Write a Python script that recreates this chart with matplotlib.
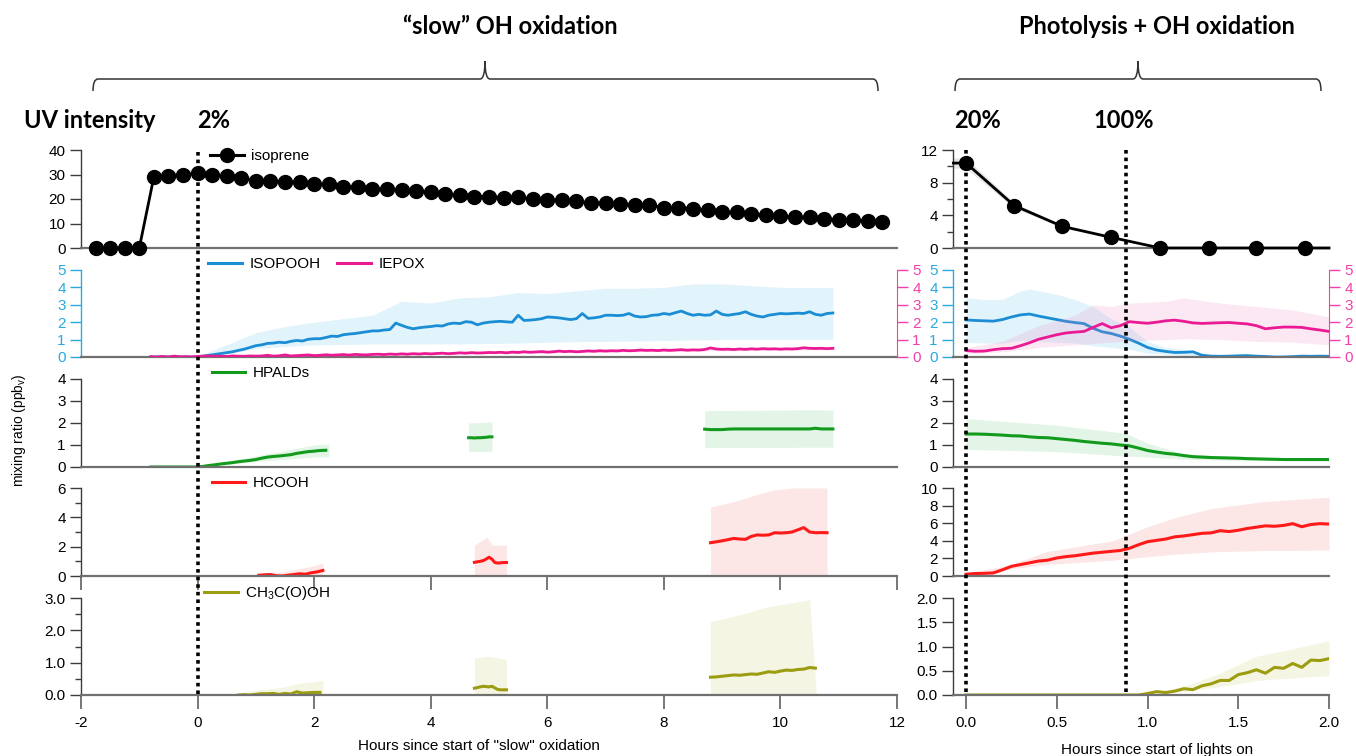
import numpy as np
import matplotlib.pyplot as plt
from matplotlib import transforms
from matplotlib.lines import Line2D
from matplotlib.path import Path
from matplotlib.patches import PathPatch

plt.rcParams['font.family'] = ['Liberation Sans', 'DejaVu Sans']
plt.rcParams['font.size'] = 11
plt.rcParams['mathtext.default'] = 'regular'
plt.rcParams['axes.unicode_minus'] = False

# ---------------- "slow" OH oxidation (hours since start) ----------------
iso = [0, 0, 0, 0, 29, 29.5, 30, 30.5,
       30, 29.5, 28.5, 27.5, 27.5, 27, 27, 26, 26, 25, 25, 24, 24.2, 23.5, 23.4, 22.8, 22,
       21.5, 21, 21, 20.5, 20.8, 20, 19.5, 19.5, 19, 18.5, 18.3, 18, 17.7, 17.5, 16.5,
       16.5, 16, 15.5, 14.5, 14.5, 14, 13.5, 13, 12.5, 12.5, 12, 11.5, 11.5, 11, 10.5]
iso_t = np.linspace(-1.75, 11.75, len(iso))
iso_rel_err = 0.06

isopooh = [0, 0, 0, 0, 0, 0, 0, 0, 0.02,
           0.05, 0.1, 0.15, 0.2, 0.25, 0.3, 0.38, 0.45, 0.55, 0.65,
           0.7, 0.78, 0.8, 0.85, 0.82, 0.9, 0.95, 0.92, 1.02, 1.05,
           1.05, 1.12, 1.2, 1.18, 1.28, 1.32, 1.35, 1.4, 1.45, 1.5,
           1.5, 1.55, 1.58, 1.95, 1.82, 1.7, 1.62, 1.68, 1.72, 1.75,
           1.8, 1.78, 1.9, 1.95, 1.92, 2.03, 2.0, 1.85, 1.95, 2.0,
           2.03, 2.05, 2.02, 2.0, 2.4, 2.1, 2.12, 2.15, 2.2, 2.3,
           2.28, 2.25, 2.2, 2.15, 2.2, 2.5, 2.22, 2.25, 2.3, 2.4,
           2.4, 2.38, 2.4, 2.5, 2.35, 2.3, 2.32, 2.4, 2.42, 2.5,
           2.45, 2.55, 2.64, 2.5, 2.4, 2.45, 2.4, 2.42, 2.64, 2.45,
           2.4, 2.45, 2.5, 2.6, 2.45, 2.35, 2.3, 2.4, 2.45, 2.5,
           2.48, 2.5, 2.52, 2.5, 2.6, 2.45, 2.4, 2.5, 2.53]
isopooh_t = np.linspace(-0.8, 10.9, len(isopooh))
isopooh_band_t = [0, 0.5, 1, 1.5, 2, 2.5, 3, 3.5, 4, 4.5, 5, 5.5, 6, 6.5, 7, 7.5, 8, 8.5,
                  9, 9.5, 10, 10.5, 10.9]
isopooh_hi = [0.05, 0.7, 1.4, 1.75, 2.0, 2.2, 2.4, 3.2, 3.1, 3.4, 3.45, 3.7, 3.65, 3.8, 3.95,
              3.95, 4.0, 4.2, 4.2, 4.1, 4.0, 4.0, 4.0]
isopooh_lo = [0, 0.15, 0.5, 0.6, 0.7, 0.72, 0.75, 0.75, 0.75, 0.75, 0.78, 0.8, 0.85, 0.88, 0.9,
              0.92, 0.95, 0.98, 1.0, 1.0, 1.0, 1.0, 1.0]

iepox = [0.02, 0.0, 0.03, 0.0, 0.05, 0.01, 0.02, 0.0, 0.03,
         0.05, 0.06, 0.04, 0.05, 0.03, 0.06, 0.05, 0.04, 0.06, 0.05,
         0.06, 0.1, 0.05, 0.07, 0.12, 0.06, 0.08, 0.1, 0.12, 0.08,
         0.1, 0.13, 0.1, 0.12, 0.14, 0.11, 0.15, 0.13, 0.12, 0.15,
         0.16, 0.14, 0.17, 0.15, 0.18, 0.16, 0.19, 0.17, 0.2, 0.18,
         0.2, 0.22, 0.19, 0.21, 0.24, 0.22, 0.25, 0.23, 0.24, 0.26,
         0.25, 0.27, 0.24, 0.28, 0.26, 0.3, 0.27, 0.29, 0.31, 0.28,
         0.3, 0.34, 0.31, 0.33, 0.3, 0.32, 0.35, 0.33, 0.36, 0.34,
         0.36, 0.35, 0.38, 0.36, 0.37, 0.4, 0.38, 0.39, 0.37, 0.4,
         0.38, 0.4, 0.42, 0.39, 0.41, 0.4, 0.43, 0.52, 0.46, 0.44,
         0.45, 0.43, 0.46, 0.44, 0.47, 0.45, 0.48, 0.46, 0.47, 0.45,
         0.47, 0.46, 0.48, 0.53, 0.5, 0.49, 0.5, 0.48, 0.5]
iepox_t = np.linspace(-0.8, 10.9, len(iepox))
iepox_band_t = [-0.8, 2, 4, 6, 8, 10.9]
iepox_hi = [0.06, 0.16, 0.26, 0.36, 0.47, 0.58]
iepox_lo = [0.0, 0.04, 0.14, 0.22, 0.32, 0.42]

# HPALDs: three measurement periods
hpald_1 = [0, 0, 0, 0, 0, 0, 0, 0, 0,
           0.03, 0.07, 0.1, 0.14, 0.17, 0.2, 0.24, 0.27, 0.3, 0.34,
           0.4, 0.45, 0.48, 0.5, 0.53, 0.56, 0.62, 0.66, 0.7, 0.72, 0.75, 0.76]
hpald_1_t = np.linspace(-0.8, 2.2, len(hpald_1))
hpald_2 = [1.33, 1.33, 1.32, 1.33, 1.33, 1.34, 1.35, 1.37, 1.37]
hpald_2_t = np.linspace(4.65, 5.05, len(hpald_2))
hpald_3 = [1.72, 1.7, 1.7, 1.7, 1.72, 1.73, 1.73, 1.73, 1.73, 1.73, 1.73, 1.73, 1.73, 1.73,
           1.73, 1.73, 1.73, 1.73, 1.73, 1.76, 1.73, 1.73, 1.73]
hpald_3_t = np.linspace(8.7, 10.9, len(hpald_3))
hpald_bands = [([0, 0.5, 1.0, 1.5, 2.0, 2.25], [0, 0.12, 0.25, 0.35, 0.45, 0.47], [0, 0.25, 0.5, 0.75, 1.0, 1.05]),
               ([4.65, 5.05], [0.7, 0.7], [2.0, 2.05]),
               ([8.7, 10.6, 10.9], [0.88, 0.9, 0.9], [2.56, 2.6, 2.58])]

# HCOOH
hcooh_1 = [0.05, 0.08, 0.1, 0.02, 0.0, 0.05, 0.1, 0.15, 0.12, 0.22, 0.28, 0.38]
hcooh_1_t = np.linspace(1.05, 2.15, len(hcooh_1))
hcooh_2 = [0.93, 0.97, 1.0, 1.05, 1.15, 1.28, 1.15, 0.92, 0.88, 0.9, 0.92, 0.92]
hcooh_2_t = np.linspace(4.75, 5.3, len(hcooh_2))
hcooh_3 = [2.27, 2.33, 2.4, 2.48, 2.56, 2.52, 2.5, 2.7, 2.8, 2.78, 2.8, 2.95, 2.93, 2.95,
           3.0, 3.15, 3.3, 3.0, 2.95, 2.96, 2.95]
hcooh_3_t = np.linspace(8.8, 10.8, len(hcooh_3))
hcooh_bands = [([1.05, 1.5, 2.0, 2.15], [0, 0, 0.05, 0.1], [0.2, 0.3, 0.7, 0.9]),
               ([4.75, 4.96, 5.06, 5.3], [0, 0, 0, 0], [2.1, 2.65, 2.1, 2.1]),
               ([8.8, 9.2, 9.55, 9.88, 10.22, 10.8], [0, 0, 0, 0, 0, 0], [4.7, 5.07, 5.5, 5.86, 6.0, 6.0])]

# CH3C(O)OH
acid_1 = [0.0, 0.01, 0.0, 0.02, 0.04, 0.04, 0.05, 0.02, 0.05, 0.03, 0.1, 0.06, 0.07, 0.08, 0.08]
acid_1_t = np.linspace(0.7, 2.1, len(acid_1))
acid_2 = [0.21, 0.23, 0.25, 0.27, 0.26, 0.25, 0.27, 0.22, 0.17, 0.16, 0.16, 0.16]
acid_2_t = np.linspace(4.75, 5.3, len(acid_2))
acid_3 = [0.55, 0.56, 0.58, 0.6, 0.62, 0.61, 0.63, 0.65, 0.64, 0.68, 0.72, 0.7, 0.74, 0.77,
          0.76, 0.79, 0.8, 0.85, 0.83]
acid_3_t = np.linspace(8.8, 10.6, len(acid_3))
acid_bands = [([0.7, 1.0, 1.5, 1.7, 2.15], [0, 0, 0, 0, 0], [0.05, 0.15, 0.25, 0.35, 0.45]),
              ([4.75, 5.0, 5.3], [0, 0, 0], [1.14, 1.2, 1.1]),
              ([8.8, 9.2, 9.77, 10.5, 10.62], [0, 0, 0, 0, 0], [2.27, 2.43, 2.72, 2.95, 0.0])]

# ---------------- photolysis + OH oxidation (hours since lights on) ----------------
iso_r_t = [-0.07, 0.0, 0.265, 0.53, 0.8, 1.07, 1.34, 1.6, 1.87, 2.0]
iso_r = [10.4, 10.4, 5.2, 2.65, 1.3, 0.0, 0.0, 0.0, 0.0, 0.0]
iso_r_measured = [1, 2, 3, 4, 5, 6, 7, 8]

isopooh_r = [2.13, 2.1, 2.08, 2.06, 2.15, 2.3, 2.42, 2.47, 2.35, 2.25, 2.15, 2.05, 1.98, 1.92,
             1.65, 1.45, 1.35, 1.2, 1.02, 0.8, 0.55, 0.4, 0.32, 0.26, 0.27, 0.3, 0.1, 0.05,
             0.04, 0.05, 0.07, 0.08, 0.05, 0.03, 0.0, 0.0, 0.02, 0.05, 0.04, 0.05, 0.04]
iepox_r = [0.37, 0.33, 0.34, 0.42, 0.48, 0.5, 0.65, 0.82, 1.02, 1.15, 1.28, 1.38, 1.43, 1.47,
           1.7, 1.92, 1.68, 1.8, 2.03, 1.98, 1.94, 2.0, 2.08, 2.12, 2.05, 1.96, 1.93, 1.95,
           1.97, 1.98, 1.94, 1.9, 1.8, 1.62, 1.68, 1.72, 1.72, 1.7, 1.62, 1.55, 1.47]
hpald_r = [1.5, 1.5, 1.49, 1.47, 1.45, 1.42, 1.41, 1.37, 1.34, 1.33, 1.29, 1.25, 1.21, 1.16,
           1.12, 1.08, 1.05, 1.0, 0.96, 0.86, 0.75, 0.68, 0.62, 0.58, 0.52, 0.47, 0.45, 0.43,
           0.42, 0.41, 0.4, 0.38, 0.37, 0.36, 0.35, 0.34, 0.34, 0.34, 0.34, 0.34, 0.34]
hcooh_r = [0.2, 0.28, 0.3, 0.35, 0.7, 1.1, 1.3, 1.5, 1.7, 1.8, 2.05, 2.2, 2.3, 2.45, 2.6, 2.7,
           2.8, 2.9, 3.15, 3.55, 3.9, 4.05, 4.2, 4.45, 4.55, 4.7, 4.85, 4.9, 5.15, 5.05, 5.2,
           5.4, 5.55, 5.7, 5.65, 5.75, 5.95, 5.6, 5.85, 5.95, 5.9]
acid_r = [0.0] * 20 + [0.03, 0.07, 0.05, 0.08, 0.13, 0.11, 0.19, 0.23, 0.3, 0.3, 0.42, 0.46,
                       0.52, 0.45, 0.57, 0.55, 0.65, 0.57, 0.72, 0.71, 0.75]
r_t = np.linspace(0.0, 2.0, len(hpald_r))

isopooh_r_band_t = [0, 0.1, 0.2, 0.3, 0.35, 0.5, 0.6, 0.7, 0.8, 0.9, 1.0, 1.1, 1.2, 1.3, 1.4, 2.0]
isopooh_r_hi = [3.4, 3.3, 3.3, 3.8, 3.9, 3.6, 3.3, 2.9, 2.2, 1.7, 0.9, 0.55, 0.45, 0.15, 0.06, 0.06]
isopooh_r_lo = [0.85, 0.8, 0.8, 0.95, 0.95, 0.85, 0.8, 0.65, 0.55, 0.45, 0.22, 0.15, 0.1, 0.03, 0.02, 0.02]
iepox_r_band_t = [0, 0.2, 0.4, 0.6, 0.7, 0.8, 0.9, 1.1, 1.2, 1.4, 1.6, 1.8, 2.0]
iepox_r_hi = [0.55, 0.9, 1.8, 2.4, 3.0, 2.9, 3.1, 3.2, 3.4, 3.1, 2.9, 2.7, 2.3]
iepox_r_lo = [0.2, 0.3, 0.55, 0.7, 0.78, 0.85, 0.92, 1.0, 1.05, 1.0, 0.9, 0.85, 0.7]
hpald_r_band_t = [0, 0.5, 0.88, 1.0, 1.2, 1.5, 2.0]
hpald_r_hi = [2.2, 1.9, 1.53, 1.08, 0.6, 0.45, 0.4]
hpald_r_lo = [0.8, 0.7, 0.5, 0.45, 0.35, 0.3, 0.28]
hcooh_r_band_t = [0, 0.24, 0.44, 0.81, 1.0, 1.17, 1.36, 1.64, 2.0]
hcooh_r_hi = [0.3, 1.25, 2.76, 4.0, 5.6, 6.74, 7.7, 8.45, 8.95]
hcooh_r_lo = [0.1, 0.8, 1.3, 1.8, 2.2, 2.5, 2.75, 2.9, 2.95]
acid_r_band_t = [0, 1.0, 1.2, 1.4, 1.6, 1.8, 2.0]
acid_r_hi = [0, 0.03, 0.18, 0.45, 0.8, 0.95, 1.12]
acid_r_lo = [0, 0, 0.08, 0.17, 0.3, 0.35, 0.4]

uv_left = [0.0]
uv_right = [0.0, 0.88]

# ---------------- colours ----------------
K_ISO = 'black'
K_ISOPOOH, B_ISOPOOH, A_ISOPOOH = '#1a8dd4', '#e1f3fb', '#29a9e0'
K_IEPOX, A_IEPOX = '#ea1a94', '#f040aa'
K_HPALD, B_HPALD = '#129a1c', '#e3f5e6'
K_HCOOH, B_HCOOH = '#ff1a1a', '#fde6e6'
K_ACID, B_ACID = '#9c9c10', '#f5f5e4'

W, H = 1356, 756
fig = plt.figure(figsize=(W / 100, H / 100), dpi=100)


def px_axes(x0, x1, y0, y1):
    return fig.add_axes([x0 / W, 1 - y1 / H, (x1 - x0) / W, (y1 - y0) / H])


rows = [(150, 248), (270, 357), (379, 467), (488, 576), (598, 695)]
L = [px_axes(81, 897, *r) for r in rows]
R = [px_axes(953, 1329, *r) for r in rows]


def base(ax, xlim, ylim, yt, yminor=None, fmt=None, col='#3c3c3c', lab='black'):
    ax.set_xlim(*xlim)
    ax.set_ylim(*ylim)
    ax.patch.set_alpha(0)
    ax.spines['top'].set_visible(False)
    ax.spines['right'].set_visible(False)
    ax.spines['bottom'].set_color('#707070')
    ax.spines['bottom'].set_linewidth(1.6)
    ax.spines['left'].set_color(col)
    ax.spines['left'].set_linewidth(1.0)
    ax.set_yticks(yt)
    if yminor is not None:
        ax.set_yticks(yminor, minor=True)
    if fmt:
        ax.set_yticklabels([fmt % v for v in yt])
    ax.tick_params(axis='y', which='both', direction='out', color=col, labelcolor=lab,
                   width=1, pad=3, labelsize=11)
    ax.tick_params(axis='y', which='major', length=8)
    ax.tick_params(axis='y', which='minor', length=4)
    ax.tick_params(axis='x', which='both', bottom=False, labelbottom=False)


def xticks(ax, ticks, fmt, labels=True):
    ax.set_xticks(ticks)
    ax.set_xticklabels([fmt % v for v in ticks])
    ax.tick_params(axis='x', bottom=True, labelbottom=labels, direction='out', length=10,
                   width=1.2, color='#606060', pad=5, labelsize=11)


def key(ax, items, x, y, ncol=1):
    hs = [Line2D([], [], color=c, lw=2.2, marker=m, ms=10) for c, m, _ in items]
    ax.legend(hs, [t for _, _, t in items], loc='center left', bbox_to_anchor=(x, y),
              frameon=False, ncol=ncol, handlelength=2.2, handletextpad=0.5,
              columnspacing=1.1, borderpad=0, borderaxespad=0, fontsize=11)


xl, xr = (-2, 12), (-0.072, 2.0)

# row 1: isoprene
iso_a = np.array(iso)
L[0].fill_between(iso_t, iso_a * (1 - iso_rel_err), iso_a * (1 + iso_rel_err), color='#e6e6e6', lw=0)
L[0].plot(iso_t, iso, color=K_ISO, lw=2, marker='o', ms=10, clip_on=False, zorder=3)
base(L[0], xl, (0, 40), [0, 10, 20, 30, 40])
key(L[0], [(K_ISO, 'o', 'isoprene')], 0.158, 0.94)

iso_ra = np.array(iso_r)
R[0].fill_between(iso_r_t, iso_ra * (1 - iso_rel_err), iso_ra * (1 + iso_rel_err), color='#e6e6e6', lw=0)
R[0].plot(iso_r_t, iso_r, color=K_ISO, lw=2, marker='o', ms=10, markevery=iso_r_measured,
          clip_on=False, zorder=3)
base(R[0], xr, (0, 12), [0, 4, 8, 12], [2, 6, 10])

# row 2: ISOPOOH (left axis) and IEPOX (right axis)
L[1].fill_between(isopooh_band_t, isopooh_lo, isopooh_hi, color=B_ISOPOOH, lw=0)
L[1].plot(isopooh_t, isopooh, color=K_ISOPOOH, lw=2)
base(L[1], xl, (0, 5), [0, 1, 2, 3, 4, 5], col=A_ISOPOOH, lab=A_ISOPOOH)
L1b = L[1].twinx()
L1b.fill_between(iepox_band_t, iepox_lo, iepox_hi, color='#f080c0', alpha=0.18, lw=0)
L1b.plot(iepox_t, iepox, color=K_IEPOX, lw=2)
key(L[1], [(K_ISOPOOH, None, 'ISOPOOH'), (K_IEPOX, None, 'IEPOX')], 0.156, 1.07, ncol=2)

R[1].fill_between(isopooh_r_band_t, isopooh_r_lo, isopooh_r_hi, color=B_ISOPOOH, lw=0)
R[1].plot(r_t, isopooh_r, color=K_ISOPOOH, lw=2)
base(R[1], xr, (0, 5), [0, 1, 2, 3, 4, 5], col=A_ISOPOOH, lab=A_ISOPOOH)
R1b = R[1].twinx()
R1b.fill_between(iepox_r_band_t, iepox_r_lo, iepox_r_hi, color='#f080c0', alpha=0.18, lw=0)
R1b.plot(r_t, iepox_r, color=K_IEPOX, lw=2)

for tw in (L1b, R1b):
    tw.set_ylim(0, 5)
    tw.set_yticks([0, 1, 2, 3, 4, 5])
    for s in ('top', 'left', 'bottom'):
        tw.spines[s].set_visible(False)
    tw.spines['right'].set_color(A_IEPOX)
    tw.tick_params(axis='y', direction='out', length=8, width=1, color=A_IEPOX,
                   labelcolor=A_IEPOX, pad=3, labelsize=11)
    tw.tick_params(axis='x', bottom=False, labelbottom=False)

# row 3: HPALDs
for (bt, lo, hi) in hpald_bands:
    L[2].fill_between(bt, lo, hi, color=B_HPALD, lw=0)
for t, v in ((hpald_1_t, hpald_1), (hpald_2_t, hpald_2), (hpald_3_t, hpald_3)):
    L[2].plot(t, v, color=K_HPALD, lw=2.2)
base(L[2], xl, (0, 4), [0, 1, 2, 3, 4])
key(L[2], [(K_HPALD, None, 'HPALDs')], 0.16, 1.068)

R[2].fill_between(hpald_r_band_t, hpald_r_lo, hpald_r_hi, color=B_HPALD, lw=0)
R[2].plot(r_t, hpald_r, color=K_HPALD, lw=2.2)
base(R[2], xr, (0, 4), [0, 1, 2, 3, 4])

# row 4: HCOOH
for (bt, lo, hi) in hcooh_bands:
    L[3].fill_between(bt, lo, hi, color=B_HCOOH, lw=0)
for t, v in ((hcooh_1_t, hcooh_1), (hcooh_2_t, hcooh_2), (hcooh_3_t, hcooh_3)):
    L[3].plot(t, v, color=K_HCOOH, lw=2.2)
base(L[3], xl, (0, 6), [0, 2, 4, 6], [1, 3, 5])
xticks(L[3], list(range(-2, 13, 2)), '%d', labels=False)
key(L[3], [(K_HCOOH, None, 'HCOOH')], 0.16, 1.057)

R[3].fill_between(hcooh_r_band_t, hcooh_r_lo, hcooh_r_hi, color=B_HCOOH, lw=0)
R[3].plot(r_t, hcooh_r, color=K_HCOOH, lw=2.2)
base(R[3], xr, (0, 10), [0, 2, 4, 6, 8, 10])

# row 5: CH3C(O)OH
for (bt, lo, hi) in acid_bands:
    L[4].fill_between(bt, lo, hi, color=B_ACID, lw=0)
for t, v in ((acid_1_t, acid_1), (acid_2_t, acid_2), (acid_3_t, acid_3)):
    L[4].plot(t, v, color=K_ACID, lw=2.2)
base(L[4], xl, (0, 3), [0, 1, 2, 3], [0.5, 1.5, 2.5], fmt='%.1f')
xticks(L[4], list(range(-2, 13, 2)), '%d')
key(L[4], [(K_ACID, None, 'CH$_3$C(O)OH')], 0.151, 1.05)

R[4].fill_between(acid_r_band_t, acid_r_lo, acid_r_hi, color=B_ACID, lw=0)
R[4].plot(r_t, acid_r, color=K_ACID, lw=2.2)
base(R[4], xr, (0, 2), [0, 0.5, 1.0, 1.5, 2.0], fmt='%.1f')
xticks(R[4], [0, 0.5, 1.0, 1.5, 2.0], '%.1f')

# dotted lines where the UV intensity changes
for ax, steps, top in ((L[0], uv_left, 152), (R[0], uv_right, 150)):
    tr = transforms.blended_transform_factory(ax.transData, fig.transFigure)
    for s in steps:
        fig.add_artist(Line2D([s, s], [1 - top / H, 1 - 695 / H], transform=tr, color='black',
                              lw=2.6, ls=(0, (1, 1.1)), zorder=10))


# curly braces above the two periods
def brace(x0, x1, xm, y=79, tip=61, end=91, r=5):
    v = [(x0, end), (x0, y), (x0 + r, y), (xm - r, y), (xm, y), (xm, tip), (xm, y),
         (xm + r, y), (x1 - r, y), (x1, y), (x1, end)]
    c = [Path.MOVETO, Path.CURVE3, Path.CURVE3, Path.LINETO, Path.CURVE3, Path.CURVE3,
         Path.CURVE3, Path.CURVE3, Path.LINETO, Path.CURVE3, Path.CURVE3]
    v = [(a / W, 1 - b / H) for a, b in v]
    fig.add_artist(PathPatch(Path(v, c), transform=fig.transFigure, fill=False,
                             edgecolor='#333333', lw=1.1))


brace(93, 878, 485)
brace(955, 1321, 1138)

hdr = dict(family=['Lato', 'DejaVu Sans'], fontweight='bold', fontsize=17, va='center')
fig.text(510 / W, 1 - 27 / H, '\u201cslow\u201d OH oxidation', ha='center', **hdr)
fig.text(1157 / W, 1 - 27 / H, 'Photolysis + OH oxidation', ha='center', **hdr)
fig.text(24 / W, 1 - 120 / H, 'UV intensity', ha='left', **hdr)
fig.text(197 / W, 1 - 120 / H, '2%', ha='left', **hdr)
fig.text(954 / W, 1 - 120 / H, '20%', ha='left', **hdr)
fig.text(1093 / W, 1 - 120 / H, '100%', ha='left', **hdr)

fig.text(19 / W, 1 - 430 / H, 'mixing ratio (ppb$_v$)', rotation=90, ha='center', va='center', fontsize=10)
fig.text(479 / W, 1 - 746 / H, 'Hours since start of "slow" oxidation', ha='center', va='center', fontsize=11)
fig.text(1157 / W, 1 - 750 / H, 'Hours since start of lights on', ha='center', va='center', fontsize=11)

fig.savefig('out.png', dpi=100)
